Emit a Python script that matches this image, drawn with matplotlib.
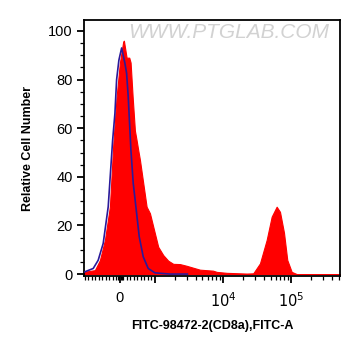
import numpy as np
import matplotlib
matplotlib.use("Agg")
import matplotlib.pyplot as plt

# sample (red, filled)
sample_x = [-1030, -1000, -714, -571, -428, -286, -191, -94, 0, 94, 114, 191, 266, 305,
            363, 428, 477, 523, 571, 666, 762, 857, 951, 1117, 1324, 1567, 1858, 2328,
            2924, 3268, 4584, 7129, 8076, 11324, 22284, 27861, 34990, 43855, 51990,
            61520, 68870, 78890, 88130, 102300, 121300, 525000]
sample_y = [0.8, 1.0, 1.6, 5.7, 14, 27.7, 53, 73, 87, 95.6, 96, 89, 89, 87,
            73, 59, 55, 51, 47, 37.4, 27.7, 25, 19.5, 11.2, 7.8, 5.5, 4.2, 4.1,
            3.4, 3.0, 1.8, 1.4, 0.9, 0.5, 0.2, 0.3, 4.4, 14, 23.6,
            27.7, 25.6, 17, 5.8, 0.9, 0.0, 0.0]

# isotype control (blue line)
control_x = [-1030, -762, -620, -477, -334, -208, -143, -94, -29, 49, 143, 191, 237,
             286, 314, 380, 477, 551, 666, 808, 999, 1660, 3000]
control_y = [0.8, 2.3, 5.7, 12.6, 27.7, 55, 66, 80, 88, 93, 86.7, 82.6, 73,
             59, 51, 37.4, 25, 15.4, 7.1, 2.3, 0.5, 0.0, 0.0]

major_ticks = [0, 1e3, 1e4, 1e5]
major_labels = ["0", "", "$10^4$", "$10^5$"]

plt.rcParams['font.family'] = ['Liberation Sans', 'DejaVu Sans']

fig = plt.figure(figsize=(3.61, 3.56), dpi=100)
ax = fig.add_axes([0.2327, 0.2247, 0.7091, 0.7191])

ax.set_xscale('symlog', linthresh=1000, linscale=0.4635)
ax.fill_between(sample_x, sample_y, 0, color='#ff0000', linewidth=0.8, edgecolor='#ff0000', zorder=2)
ax.plot(control_x, control_y, color='#2a1a9a', linewidth=1.2, zorder=3)

ax.set_xlim(-1030, 525000)
ax.set_ylim(-0.8, 104.5)

# ticks
ax.set_xticks(major_ticks)
ax.set_xticklabels(major_labels)
minor = list(np.arange(-1000, 1001, 100))
minor += [-60, -30, 30, 60]
for dec in [1e3, 1e4, 1e5]:
    minor += [k * dec for k in range(2, 10) if k * dec < 525000]
ax.set_xticks(minor, minor=True)
ax.set_yticks([0, 20, 40, 60, 80, 100])
ax.set_yticks(np.arange(0, 101, 5), minor=True)

ax.tick_params(axis='both', which='major', length=5, width=1.3, labelsize=10.5, direction='out')
ax.tick_params(axis='both', which='minor', length=3, width=0.9, direction='out')
ax.tick_params(axis='x', pad=6)
ax.tick_params(axis='y', pad=3)
for s in ax.spines.values():
    s.set_linewidth(1.3)

ax.set_xlabel("FITC-98472-2(CD8a),FITC-A", fontsize=9, fontweight='bold', labelpad=7)
ax.set_ylabel("Relative Cell Number", fontsize=9, fontweight='bold', labelpad=10)

# watermark
ax.text(0.565, 0.95, "WWW.PTGLAB.COM", transform=ax.transAxes, fontsize=15,
        color='#d2d2d2', ha='center', va='center', style='italic', zorder=1)

fig.savefig("out.png", dpi=100)
